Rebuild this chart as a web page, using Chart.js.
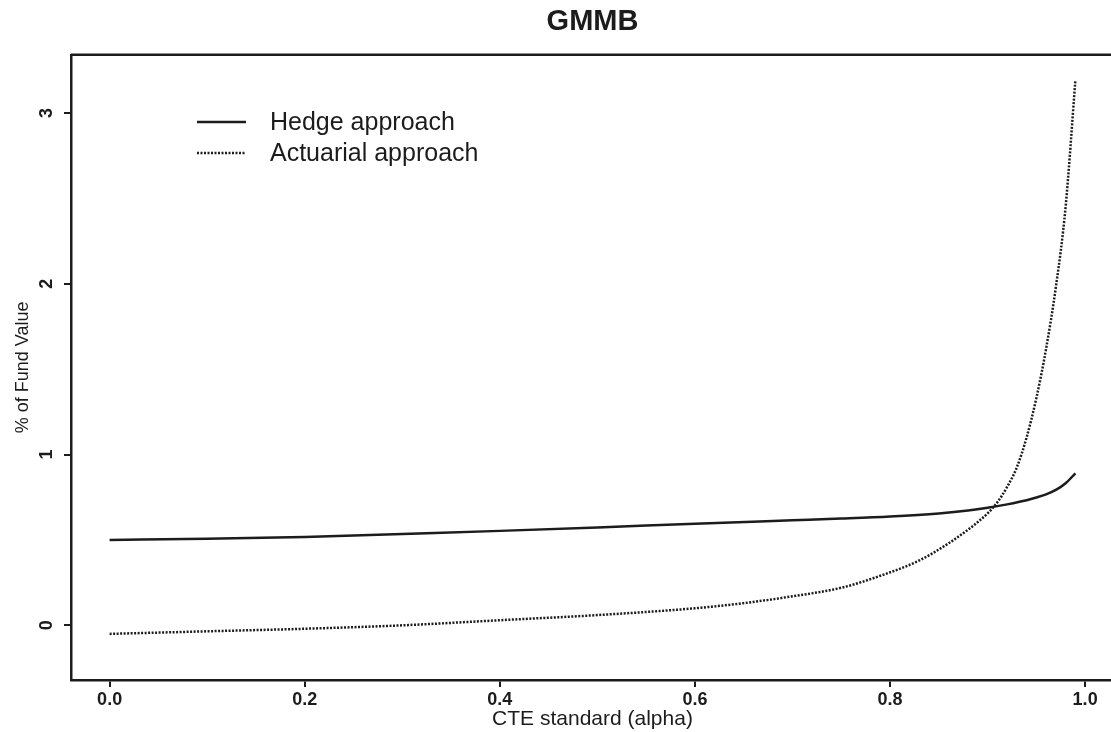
<!DOCTYPE html>
<html>
<head>
<meta charset="utf-8">
<title>GMMB</title>
<script src="https://cdn.jsdelivr.net/npm/chart.js@4.4.1/dist/chart.umd.min.js"></script>
<style>
    html, body { margin: 0; padding: 0; background: #fff; overflow: hidden; }
    #wrap { position: absolute; left: 0; top: 0; width: 1120px; height: 732px; }
</style>
</head>
<body>
<div id="wrap"><canvas id="gmmbChart"></canvas></div>
<script>
// values
const hedgeAlpha = [0, 0.1, 0.2, 0.3, 0.4, 0.5, 0.6, 0.7, 0.75, 0.8, 0.85, 0.88, 0.9, 0.92, 0.94, 0.95, 0.96, 0.97, 0.98, 0.99];
const hedgeValues = [0.50, 0.507, 0.517, 0.535, 0.553, 0.573, 0.595, 0.615, 0.625, 0.637, 0.655, 0.672, 0.688, 0.708, 0.732, 0.748, 0.767, 0.793, 0.832, 0.89];

const actuarialAlpha = [0, 0.1, 0.2, 0.3, 0.4, 0.5, 0.6, 0.65, 0.7, 0.75, 0.79, 0.83, 0.86, 0.88, 0.89, 0.9, 0.91, 0.92, 0.93, 0.94, 0.95, 0.96, 0.97, 0.98, 0.99];
const actuarialValues = [-0.05, -0.035, -0.02, 0.0, 0.03, 0.06, 0.10, 0.13, 0.17, 0.22, 0.29, 0.38, 0.48, 0.56, 0.605, 0.655, 0.72, 0.81, 0.925, 1.1, 1.33, 1.62, 1.98, 2.45, 3.19];

const xTicks = [0, 0.2, 0.4, 0.6, 0.8, 1.0];
const yTicks = [0, 1, 2, 3];

const ink = '#1c1c1c';
const fontFamily = '"Liberation Sans", Arial, Helvetica, sans-serif';

function toPoints(xs, ys) {
    return xs.map((x, i) => ({ x: x, y: ys[i] }));
}

// box around the plot + legend in the upper left, like the R figure
const frameAndLegend = {
    id: 'frameAndLegend',
    afterDraw(chart) {
        const ctx = chart.ctx;
        const area = chart.chartArea;
        ctx.save();
        ctx.strokeStyle = ink;
        ctx.lineWidth = 2.5;
        ctx.beginPath();
        ctx.moveTo(area.left, area.top);
        ctx.lineTo(area.right, area.top);
        ctx.lineTo(area.right, area.bottom);
        ctx.stroke();

        ctx.font = '25px ' + fontFamily;
        ctx.fillStyle = ink;
        ctx.textBaseline = 'middle';
        chart.data.datasets.forEach((ds, i) => {
            const y = 122 + i * 31;
            ctx.setLineDash(ds.borderDash || []);
            ctx.lineWidth = ds.borderWidth;
            ctx.beginPath();
            ctx.moveTo(197, y);
            ctx.lineTo(246, y);
            ctx.stroke();
            ctx.setLineDash([]);
            ctx.fillText(ds.label, 270, y + 1);
        });
        ctx.restore();
    }
};

const ctx = document.getElementById('gmmbChart').getContext('2d');

new Chart(ctx, {
    type: 'line',
    data: {
        datasets: [{
            label: 'Hedge approach',
            data: toPoints(hedgeAlpha, hedgeValues),
            borderColor: ink,
            borderWidth: 2.5,
            pointRadius: 0,
            cubicInterpolationMode: 'monotone',
            fill: false
        }, {
            label: 'Actuarial approach',
            data: toPoints(actuarialAlpha, actuarialValues),
            borderColor: ink,
            borderWidth: 2.5,
            borderDash: [2, 1.5],
            pointRadius: 0,
            cubicInterpolationMode: 'monotone',
            fill: false
        }]
    },
    options: {
        responsive: true,
        maintainAspectRatio: false,
        animation: false,
        layout: { padding: { left: 0, right: 6, top: 0, bottom: 0 } },
        plugins: {
            legend: { display: false },
            tooltip: { enabled: false },
            title: {
                display: true,
                text: 'GMMB',
                color: ink,
                fullSize: false,
                font: { family: fontFamily, size: 29, weight: 'bold' },
                padding: { top: 5, bottom: 15 }
            }
        },
        scales: {
            x: {
                type: 'linear',
                min: -0.0396,
                max: 1.0296,
                afterBuildTicks: scale => { scale.ticks = xTicks.map(v => ({ value: v })); },
                afterFit: scale => { scale.height = 52; },
                ticks: {
                    color: ink,
                    padding: 2,
                    font: { family: fontFamily, size: 18, weight: 'bold' },
                    callback: v => v.toFixed(1)
                },
                grid: { drawOnChartArea: false, drawTicks: true, tickLength: 7, color: ink, lineWidth: 2 },
                border: { display: true, color: ink, width: 2.5 },
                title: {
                    display: true,
                    text: 'CTE standard (alpha)',
                    color: ink,
                    font: { family: fontFamily, size: 21 },
                    padding: { top: 0, bottom: 0 }
                }
            },
            y: {
                type: 'linear',
                min: -0.32,
                max: 3.34,
                afterBuildTicks: scale => { scale.ticks = yTicks.map(v => ({ value: v })); },
                afterFit: scale => { scale.width = 71; },
                ticks: {
                    color: ink,
                    padding: 12,
                    minRotation: 90,
                    maxRotation: 90,
                    crossAlign: 'center',
                    font: { family: fontFamily, size: 18, weight: 'bold' },
                    callback: v => String(v)
                },
                grid: { drawOnChartArea: false, drawTicks: true, tickLength: 7, color: ink, lineWidth: 2 },
                border: { display: true, color: ink, width: 2.5 },
                title: {
                    display: true,
                    text: '% of Fund Value',
                    color: ink,
                    font: { family: fontFamily, size: 18 },
                    padding: { top: 12, bottom: 0 }
                }
            }
        }
    },
    plugins: [frameAndLegend]
});
</script>
</body>
</html>
